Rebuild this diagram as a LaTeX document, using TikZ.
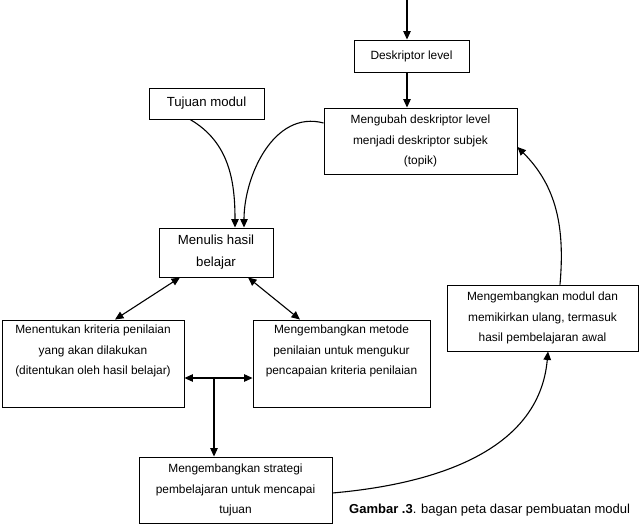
\documentclass[tikz,border=0pt]{standalone}
\usepackage{fontspec}
\setmainfont{Liberation Sans}
\usetikzlibrary{arrows.meta}
\begin{document}
\begin{tikzpicture}[x=1pt,y=-1pt,
  box/.style={draw,line width=0.9pt,align=center,inner sep=0pt,font=\fontsize{11.9}{20.5}\selectfont},
  bigbox/.style={box,font=\fontsize{13.2}{22}\selectfont},
  conn/.style={line width=1.1pt},
  arr/.style={conn,-{Triangle[length=8.5pt,width=7.5pt]}},
  darr/.style={conn,{Triangle[length=8.5pt,width=7.5pt]}-{Triangle[length=8.5pt,width=7.5pt]}}]
\useasboundingbox (0,0) rectangle (643,527);
\node[box,minimum width=115pt,minimum height=32pt] (desk) at (411.5,56) {Deskriptor level};
\node[box,minimum width=193pt,minimum height=66pt] (meng) at (420.5,141) {Mengubah deskriptor level\\menjadi deskriptor subjek\\(topik)};
\node[bigbox,minimum width=115pt,minimum height=31pt] (tuj) at (206.5,103.5) {Tujuan modul};
\node[bigbox,minimum width=114pt,minimum height=49pt] (menu) at (216,252.5) {Menulis hasil\\belajar};
\node[box,minimum width=182pt,minimum height=87pt] (krit) at (93,363.5) {Menentukan kriteria penilaian\\yang akan dilakukan\\(ditentukan oleh hasil belajar)\\\strut};
\node[box,minimum width=177pt,minimum height=87pt] (meto) at (341.5,363.5) {Mengembangkan metode\\penilaian untuk mengukur\\pencapaian kriteria penilaian\\\strut};
\node[box,minimum width=193pt,minimum height=66pt] (strat) at (235.5,490) {Mengembangkan strategi\\pembelajaran untuk mencapai\\tujuan};
\node[box,minimum width=191pt,minimum height=66pt] (modul) at (542.5,318) {Mengembangkan modul dan\\memikirkan ulang, termasuk\\hasil pembelajaran awal};
\node[anchor=west,inner sep=0pt,font=\fontsize{13}{15}\selectfont] (cap) at (349,510) {\textbf{Gambar .3}. bagan peta dasar pembuatan modul};
\coordinate (top) at (407,0);
\coordinate (junc) at (214,378);
\draw[arr] (top) -- (top |- desk.north);
\draw[arr] (top |- desk.south) -- (top |- meng.north);
\draw[arr] ([xshift=-16.5pt]tuj.south) to[out=-30,in=90] ([xshift=19pt]menu.north);
\draw[arr] ([yshift=18pt]meng.west) to[out=165,in=90] ([xshift=28pt]menu.north);
\draw[darr] ([xshift=-36pt]menu.south) -- ([xshift=22pt]krit.north);
\draw[darr] ([xshift=32pt]menu.south) -- ([xshift=-41.5pt]meto.north);
\draw[darr] (krit.east |- junc) -- (meto.west |- junc);
\draw[arr] (junc) -- (junc |- strat.north);
\draw[arr] ([yshift=-3pt]strat.east) to[out=5,in=-95] ([xshift=5.5pt]modul.south);
\draw[arr] ([xshift=17.5pt]modul.north) to[out=85,in=-45] ([yshift=-6pt]meng.east);
\end{tikzpicture}
\end{document}
